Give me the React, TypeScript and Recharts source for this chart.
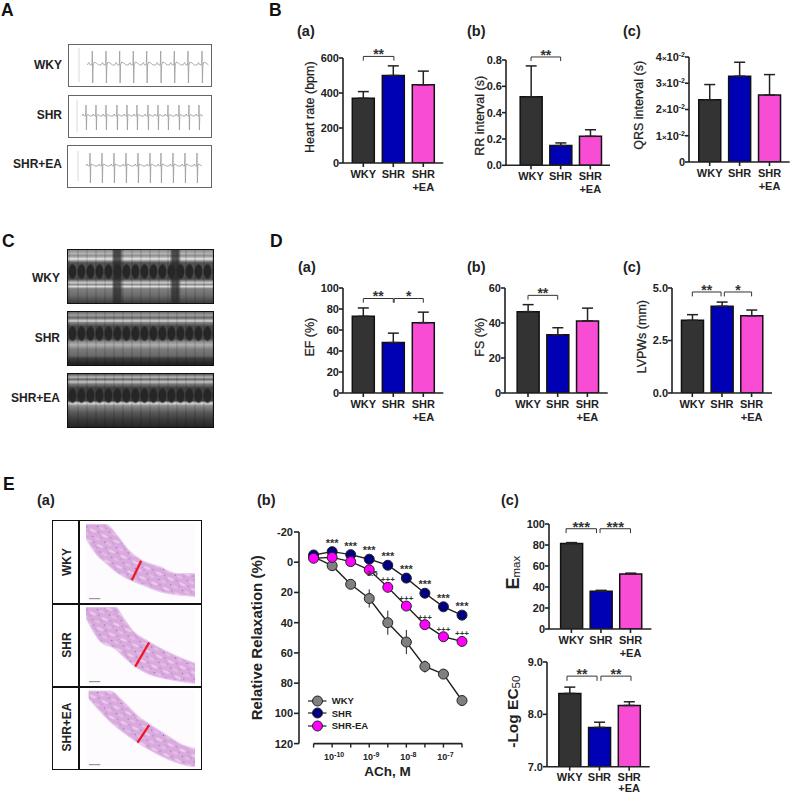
import React from "react";
import {
	Area, AreaChart, Bar, BarChart, Cell, ErrorBar, LabelList, Legend, Line, LineChart,
	ReferenceLine, XAxis, YAxis
} from "recharts";

const FONT = '"Liberation Sans", Arial, sans-serif';
const INK = "#222";

const groups = ["WKY", "SHR", "SHR\n+EA"];
const groupColors = ["#333333", "#0000b4", "#f84cd4"];

// bar panels: means and upper error
const heartRate = [370, 500, 447];
const heartRateErr = [38, 55, 78];
const rrInterval = [0.52, 0.15, 0.22];
const rrIntervalErr = [0.235, 0.02, 0.05];
const qrsInterval = [0.0237, 0.0327, 0.0255];
const qrsIntervalErr = [0.0058, 0.0053, 0.0078];
const ef = [73, 48, 67];
const efErr = [8, 9, 10];
const fs = [46.5, 33.3, 41.2];
const fsErr = [4, 4, 7.3];
const lvpw = [3.46, 4.13, 3.68];
const lvpwErr = [0.27, 0.2, 0.27];
const emax = [81.5, 36, 52.5];
const emaxErr = [0.8, 0.8, 0.7];
const logEc50 = [8.4, 7.75, 8.17];
const logEc50Err = [0.12, 0.1, 0.07];

// concentration response curves
const doseLabels = [null, "-10", null, "-9", null, "-8", null, "-7", null];
const wkyCurve = [-3.5, 2.3, 14.6, 24, 40, 52.8, 69, 74, 91.5];
const wkyCurveErr = [1, 1, 2, 6, 8, 8, 4, 1, 1];
const shrCurve = [-4.8, -7, -5, -2, 2, 10.5, 20.5, 29.5, 35];
const eaCurve = [-2.6, -3.2, -0.4, 5, 16.6, 29, 41.3, 49.3, 52.4];
const shrMarks = [null, "***", "***", "***", "***", "***", "***", "***", "***"];
const eaMarks = [null, null, null, null, "+++", "+++", "+++", "+++", "+++"];
const hiddenMark = [null, null, null, 3.5, null, null, null, null, null];
const curveNames = ["WKY", "SHR", "SHR-EA"];
const curveColors = ["#808080", "#000080", "#ff00ff"];

// ECG strips: beat times and one beat's shape [time offset, voltage]
const wkyBeats = [23.3, 37, 50.7, 64.3, 77.7, 91.7, 105.3, 119, 133];
const shrBeats = [17, 27, 37, 48, 58, 68, 79, 89, 99, 110, 120, 130];
const eaBeats = [22, 34, 46, 58, 70, 82, 93, 105, 117, 129];
const wkyBeat = [[-5, 0], [-3.5, 2.5], [-2, 0], [-0.4, 0], [0, 14], [0.4, -18], [0.9, 0], [2, 3], [4, 2], [6.5, 0]];
const shrBeat = [[-4, 0], [-2.8, 2], [-1.6, 0], [-0.4, 0], [0, 11], [0.4, -14], [0.8, 0], [1.6, 1.5], [4, 0]];
const eaBeat = [[-4, 0], [-2.8, 2], [-1.6, 0], [-0.4, 0], [0, 13], [0.4, -17], [0.8, 0], [1.6, 2], [5, 0]];

// vessel sections, read in one shared image grid
const sectionX = [
	[257, 290, 315, 350, 385, 425, 480, 530, 585],
	[257, 300, 345, 370, 400, 445, 500, 545, 585],
	[265, 310, 330, 370, 412, 445, 500, 550, 585]
];
const sectionUpper = [
	[147, 147, 147, 180, 225, 255, 275, 295, 295],
	[397, 397, 397, 430, 470, 500, 530, 550, 565],
	[648, 648, 648, 680, 722, 745, 780, 810, 820]
];
const sectionLower = [
	[190, 240, 262, 292, 312, 328, 349, 358, 363],
	[430, 500, 522, 545, 572, 597, 612, 620, 625],
	[670, 720, 740, 772, 802, 822, 850, 868, 875]
];
const sectionRange = [[147, 377], [397, 627], [645, 875]];
const sectionWall = [
	[[395, 315], [423, 257]],
	[[405, 575], [447, 503]],
	[[412, 802], [447, 750]]
];

const fixed = (digits: number) => (v: number) => v.toFixed(digits);

function GroupTick({x, y, payload, gap = 12.7, lift = 0}: any) {
	const lines = groups[payload.value].split("\n");
	return <text x={x} y={y + 9 - lift} textAnchor="middle" fontFamily={FONT} fontSize={11} fontWeight={700} fill={INK}>
		{lines.map((l, i) => <tspan key={i} x={x} dy={i === 0 ? 0 : gap}>{l}</tspan>)}
	</text>;
}

function ExpTick({x, y, payload}: any) {
	if (payload.value === 0) {
		return <text x={x} y={y + 4} textAnchor="end" fontFamily={FONT} fontSize={11} fontWeight={700} fill={INK}>0</text>;
	}
	return <text x={x} y={y + 4} textAnchor="end" fontFamily={FONT} fontSize={11} fontWeight={700} fill={INK}>
		{Math.round(payload.value * 100)}<tspan fontSize={8}>×</tspan>10<tspan fontSize={7} dy={-4}>-2</tspan>
	</text>;
}

function DoseTick({x, y, payload}: any) {
	const exp = doseLabels[payload.value];
	if (!exp) return null;
	return <text x={x + 2} y={y + 10} textAnchor="middle" fontFamily={FONT} fontSize={9} fontWeight={700} fill={INK}>
		10<tspan fontSize={7} dy={-3}>{exp}</tspan>
	</text>;
}

function SubLabel({viewBox, main, sub, mainSize, dx, dy}: any) {
	const x = viewBox.x + viewBox.width / 2 + dx;
	const y = viewBox.y + viewBox.height / 2 + dy;
	return <text x={x} y={y} transform={`rotate(-90 ${x} ${y})`} textAnchor="middle" dominantBaseline="central"
				 fontFamily={FONT} fontSize={mainSize} fontWeight={700} fill={INK}>
		{main}<tspan fontSize={11.5} fontWeight={400} dy={3}>{sub}</tspan>
	</text>;
}

function BarPanel({box, values, errors, domain, ticks, format, tick, yLabel, labelX, labelY, sub, mainSize = 15.5, brackets = [], starSize = 14, xTick}: any) {
	const {axisX, right, topY, bottomY, centers} = box;
	const unit = (centers[2] - centers[0]) / 2;
	const xDomain = [(axisX - centers[0]) / unit, 2 + (right - centers[2]) / unit];
	const data = values.map((v, i) => ({pos: i, value: v, err: [0, errors[i]]}));
	const dx = labelX - (axisX - 30);
	const dy = labelY - (topY + bottomY) / 2;
	return <div style={{position: "absolute", left: axisX - 60, top: topY - 20}}>
		<BarChart width={right - axisX + 70} height={bottomY - topY + 56} data={data}
				  margin={{top: 20, right: 10, bottom: 0, left: 0}}>
			<XAxis dataKey="pos" type="number" domain={xDomain} ticks={[0, 1, 2]} interval={0} height={36} allowDataOverflow
				   tick={xTick || <GroupTick/>} tickSize={4} stroke={INK} strokeWidth={1.6}/>
			<YAxis type="number" domain={domain} ticks={ticks} interval={0} width={60} allowDataOverflow
				   tickFormatter={format} tick={tick || {fontFamily: FONT, fontSize: 11, fontWeight: 700, fill: INK}}
				   tickSize={4} tickMargin={0} stroke={INK} strokeWidth={1.6}
				   label={sub ? <SubLabel main={yLabel} sub={sub} mainSize={mainSize} dx={dx} dy={dy}/> : {
					   value: yLabel, angle: -90, position: "center", dx, dy,
					   style: {fontFamily: FONT, fontSize: 12.5, fontWeight: 500, fill: INK, stroke: INK, strokeWidth: 0.25}
				   }}/>
			<Bar dataKey="value" barSize={22} stroke="#111" strokeWidth={1.5} isAnimationActive={false}>
				{data.map((d, i) => <Cell key={i} fill={groupColors[i]}/>)}
				<ErrorBar dataKey="err" direction="y" width={5.5} stroke={INK} strokeWidth={1.5} isAnimationActive={false}/>
			</Bar>
			{brackets.flatMap((b, i) => [
				<ReferenceLine key={`t${i}`} segment={[{x: b.from, y: b.top}, {x: b.to, y: b.top}]} ifOverflow="visible" stroke="#333" strokeWidth={1}
							   label={{value: b.stars, position: "top", offset: -3, fontFamily: FONT, fontSize: starSize, fontWeight: 700, fill: "#333"}}/>,
				<ReferenceLine key={`l${i}`} segment={[{x: b.from, y: b.top}, {x: b.from, y: b.leg}]} ifOverflow="visible" stroke="#333" strokeWidth={1}/>,
				<ReferenceLine key={`r${i}`} segment={[{x: b.to, y: b.top}, {x: b.to, y: b.leg}]} ifOverflow="visible" stroke="#333" strokeWidth={1}/>
			])}
		</BarChart>
	</div>;
}

function CurveLegend({payload}: any) {
	const rows = curveNames.filter((n) => (payload || []).some((p) => p.value === n));
	return <div>
		{rows.map((name) => <div key={name} style={{display: "flex", alignItems: "center", height: 12.65}}>
			<svg width={24} height={12} style={{display: "block"}}>
				<line x1={0} x2={18.5} y1={6} y2={6} stroke={INK} strokeWidth={1.2}/>
				<circle cx={9.5} cy={6} r={5} fill={curveColors[curveNames.indexOf(name)]} stroke={INK} strokeWidth={1}/>
			</svg>
			<span style={{fontFamily: FONT, fontSize: 9.5, fontWeight: 700, color: INK}}>{name}</span>
		</div>)}
	</div>;
}

function CurvePanel() {
	const data = wkyCurve.map((w, i) => ({
		dose: i, wky: w, wkyErr: wkyCurveErr[i], shr: shrCurve[i], ea: eaCurve[i],
		shrMark: shrMarks[i], eaMark: eaMarks[i], hidden: hiddenMark[i]
	}));
	const lineStyle = {stroke: INK, strokeWidth: 1.4, isAnimationActive: false};
	const dot = (fill) => ({r: 5, fill, stroke: INK, strokeWidth: 1});
	return <div style={{position: "absolute", left: 238.7, top: 511.7}}>
		<LineChart width={240} height={280} data={data} margin={{top: 20, right: 17, bottom: 0, left: 0}}>
			<XAxis dataKey="dose" type="number" domain={[-0.787, 8]} ticks={[0, 1, 2, 3, 4, 5, 6, 7, 8]} interval={0} height={48.4}
				   axisLine={false} tick={<DoseTick/>} tickSize={4} stroke={INK} strokeWidth={1.4}
				   label={{value: "ACh, M", position: "center", dx: 7, dy: 3, fontFamily: FONT, fontSize: 13.5, fontWeight: 700, fill: INK}}/>
			<YAxis type="number" reversed domain={[-20, 120]} ticks={[-20, 0, 20, 40, 60, 80, 100, 120]} interval={0} width={60}
				   tick={{fontFamily: FONT, fontSize: 11, fontWeight: 700, fill: INK}} tickSize={5} tickMargin={1} stroke={INK} strokeWidth={1.6}
				   label={{value: "Relative Relaxation (%)", angle: -90, position: "center", dx: -12, dy: 0, fontFamily: FONT, fontSize: 15, fontWeight: 700, fill: INK}}/>
			<ReferenceLine segment={[{x: 0, y: 120}, {x: 8, y: 120}]} ifOverflow="visible" stroke={INK} strokeWidth={1.6}/>
			<Line dataKey="wky" name="WKY" {...lineStyle} dot={dot(curveColors[0])}>
				<ErrorBar dataKey="wkyErr" direction="y" width={0} stroke={INK} strokeWidth={1} isAnimationActive={false}/>
			</Line>
			<Line dataKey="shr" name="SHR" {...lineStyle} dot={dot(curveColors[1])}>
				<LabelList dataKey="shrMark" position="top" offset={5} fontFamily={FONT} fontSize={11} fontWeight={700} fill="#333"/>
			</Line>
			<Line dataKey="hidden" legendType="none" stroke="none" dot={false} isAnimationActive={false} connectNulls={false}>
				<LabelList valueAccessor={() => "+++"} dataKey="hidden" position="top" offset={-8} dx={3} fontFamily={FONT} fontSize={8} fontWeight={700} fill="#333"/>
			</Line>
			<Line dataKey="ea" name="SHR-EA" {...lineStyle} dot={dot(curveColors[2])}>
				<LabelList dataKey="eaMark" position="top" offset={5} fontFamily={FONT} fontSize={8} fontWeight={700} fill="#333"/>
			</Line>
			<Legend layout="vertical" align="center" verticalAlign="middle" content={<CurveLegend/>}
					wrapperStyle={{left: 69, top: 182.7, width: 90}}/>
		</LineChart>
	</div>;
}

function EcgStrip({left, top, width, height, beats, beat, axisAt, axisReach}: any) {
	const data = beats.flatMap((t) => beat.map(([d, v]) => ({t: t + d, v})));
	return <div style={{position: "absolute", left, top, width, height, border: "1.5px solid #666", boxSizing: "border-box", background: "#fff"}}>
		<LineChart width={width - 3} height={height - 3} data={data} margin={{top: 0, right: 0, bottom: 0, left: 0}}>
			<XAxis dataKey="t" type="number" domain={[0, width - 3]} hide/>
			<YAxis type="number" domain={[-20, 20]} hide width={0}/>
			<ReferenceLine segment={[{x: axisAt, y: -axisReach}, {x: axisAt, y: axisReach}]} stroke="#d0d0d0" strokeWidth={0.8}/>
			<Line dataKey="v" stroke="#9a9a9a" strokeWidth={0.8} dot={false} isAnimationActive={false}/>
		</LineChart>
	</div>;
}

const echoWky = "linear-gradient(180deg, #8a8a8a 0, #b4b4b4 7%, #8c8c8c 11%, #e8e8e8 17%, #a0a0a0 20%, #555 24%, #4c4c4c 55%, #888 58%, #d0d0d0 62%, #8a8a8a 65%, #dcdcdc 69%, #808080 73%, #6e6e6e 85%, #3c3c3c 100%)";
const echoShr = "linear-gradient(180deg, #6a6a6a 0, #a0a0a0 6%, #666 11%, #d8d8d8 17%, #808080 20%, #4a4a4a 27%, #484848 50%, #8c8c8c 56%, #b0b0b0 62%, #7c7c7c 70%, #6a6a6a 82%, #3c3c3c 88%, #1e1e1e 100%)";
const echoEa = "linear-gradient(180deg, #555 0, #b8b8b8 6%, #666 10%, #c8c8c8 15%, #7a7a7a 19%, #444 26%, #404040 50%, #dcdcdc 55%, #8c8c8c 60%, #5a5a5a 72%, #3c3c3c 85%, #262626 100%)";

function EchoStrip({left, top, width, height, gradient, shadows = []}: any) {
	const columns = shadows.map((p) => `linear-gradient(90deg, transparent ${p - 4}%, rgba(40,40,40,.75) ${p - 2}%, rgba(40,40,40,.75) ${p + 2}%, transparent ${p + 4}%)`);
	const background = [
		...columns,
		"repeating-linear-gradient(90deg, rgba(0,0,0,.1) 0 2px, transparent 2px 9px)",
		"radial-gradient(ellipse 4.5px 8.5px at 50% 50%, #262626 0 70%, transparent 100%) 0 13px / 9px 17px repeat-x",
		gradient
	].join(",");
	return <div style={{position: "absolute", left, top, width, height, border: "1.5px solid #111", boxSizing: "border-box", background}}/>;
}

function VesselSection({left, top, index}: any) {
	const [low, high] = sectionRange[index];
	const data = sectionX[index].map((x, i) => ({x, band: [sectionLower[index][i], sectionUpper[index][i]]}));
	const wall = sectionWall[index];
	const id = `cells${index}`;
	return <div style={{position: "absolute", left, top, background: "#fdfbfd"}}>
		<AreaChart width={109} height={77} data={data} margin={{top: 0, right: 0, bottom: 0, left: 0}}>
			<defs>
				<pattern id={id} width={13} height={11} patternUnits="userSpaceOnUse" patternTransform="rotate(25)">
					<rect width={13} height={11} fill="#daaade"/>
					<ellipse cx={9} cy={3} rx={3.5} ry={1.2} fill="#eccbea"/>
					<ellipse cx={3.5} cy={8.5} rx={3} ry={1} fill="#e8c2e8"/>
					<circle cx={2} cy={2} r={0.6} fill="#6a5fa8"/>
					<circle cx={7} cy={6} r={0.5} fill="#7a6cb4"/>
					<circle cx={11.5} cy={8.5} r={0.6} fill="#6a5fa8"/>
					<circle cx={4.5} cy={4.5} r={0.4} fill="#8c78c0"/>
				</pattern>
			</defs>
			<XAxis dataKey="x" type="number" domain={[257, 585]} hide/>
			<YAxis type="number" reversed domain={[low, high]} hide width={0}/>
			<Area dataKey="band" type="monotone" stroke="#e6cdee" strokeWidth={1.2} fill={`url(#${id})`} fillOpacity={1} isAnimationActive={false}/>
			<ReferenceLine segment={[{x: wall[0][0], y: wall[0][1]}, {x: wall[1][0], y: wall[1][1]}]} stroke="#f0141e" strokeWidth={2.2}/>
			<ReferenceLine segment={[{x: 266, y: high - 7}, {x: 300, y: high - 7}]} stroke="#666" strokeWidth={0.8}/>
		</AreaChart>
	</div>;
}

const letters = [["A", 1, 16], ["B", 269, 16], ["C", 2, 247], ["D", 270, 247], ["E", 3, 490]];
const subLetters = [
	["(a)", 297, 36], ["(b)", 467, 36], ["(c)", 623, 36],
	["(a)", 298, 272], ["(b)", 467, 272], ["(c)", 623, 272],
	["(a)", 37, 505], ["(b)", 257, 505], ["(c)", 501, 505]
];
const rowLabels = [
	["WKY", 62, 69], ["SHR", 62, 119], ["SHR+EA", 62, 168],
	["WKY", 60, 282], ["SHR", 60, 342], ["SHR+EA", 60, 402]
];
const tableLabels = [["WKY", 562], ["SHR", 645], ["SHR+EA", 727]];

function Annotations() {
	return <svg width={791} height={794} style={{position: "absolute", left: 0, top: 0}} fontFamily={FONT} fontWeight={700} fill="#111">
		{letters.map(([t, x, y]: any) => <text key={t} x={x} y={y} fontSize={17.5}>{t}</text>)}
		{subLetters.map(([t, x, y]: any, i) => <text key={i} x={x} y={y} fontSize={14.5} fill={INK}>{t}</text>)}
		{rowLabels.map(([t, x, y]: any, i) => <text key={i} x={x} y={y} fontSize={12} textAnchor="end" fill={INK}>{t}</text>)}
		{tableLabels.map(([t, y]: any) => <text key={t} x={67} y={y} fontSize={12} textAnchor="middle" dominantBaseline="central"
												transform={`rotate(-90 67 ${y})`} fill={INK}>{t}</text>)}
	</svg>;
}

export default function App() {
	return <div style={{position: "absolute", left: 0, top: 0, width: 791, height: 794, overflow: "hidden", background: "#fff"}}>
		<EcgStrip left={68} top={44} width={144} height={43} beats={wkyBeats} beat={wkyBeat} axisAt={10} axisReach={17}/>
		<EcgStrip left={68} top={94.5} width={144} height={43} beats={shrBeats} beat={shrBeat} axisAt={8} axisReach={16}/>
		<EcgStrip left={67} top={144.5} width={145} height={43} beats={eaBeats} beat={eaBeat} axisAt={10} axisReach={15}/>

		<EchoStrip left={67} top={249} width={147} height={55} gradient={echoWky} shadows={[34, 74]}/>
		<EchoStrip left={67} top={311} width={147} height={55} gradient={echoShr}/>
		<EchoStrip left={67} top={373} width={147} height={55} gradient={echoEa}/>

		<div style={{position: "absolute", left: 51.5, top: 520, width: 150, height: 250, border: "1.5px solid #111", boxSizing: "border-box"}}/>
		<div style={{position: "absolute", left: 78, top: 520, width: 1.5, height: 250, background: "#111"}}/>
		<div style={{position: "absolute", left: 51.5, top: 603, width: 150, height: 1.5, background: "#111"}}/>
		<div style={{position: "absolute", left: 51.5, top: 686, width: 150, height: 1.5, background: "#111"}}/>
		<VesselSection left={85.7} top={524} index={0}/>
		<VesselSection left={85.7} top={607.3} index={1}/>
		<VesselSection left={85.7} top={690} index={2}/>

		<BarPanel box={{axisX: 342.7, right: 443, topY: 58.3, bottomY: 163.3, centers: [363, 393, 423]}}
				  values={heartRate} errors={heartRateErr} domain={[0, 600]} ticks={[0, 200, 400, 600]}
				  yLabel="Heart rate (bpm)" labelX={309.3} labelY={107.5}
				  brackets={[{from: 0, to: 1.02, top: 609, leg: 585, stars: "**"}]}/>
		<BarPanel box={{axisX: 506, right: 610, topY: 60, bottomY: 165.3, centers: [531, 560.7, 590.3]}}
				  values={rrInterval} errors={rrIntervalErr} domain={[0, 0.8]} ticks={[0, 0.2, 0.4, 0.6, 0.8]} format={fixed(1)}
				  yLabel="RR interval (s)" labelX={479.3} labelY={115.8}
				  brackets={[{from: 0, to: 1, top: 0.823, leg: 0.792, stars: "**"}]}/>
		<BarPanel box={{axisX: 689.3, right: 790, topY: 57, bottomY: 162, centers: [710, 739.8, 769.8]}}
				  values={qrsInterval} errors={qrsIntervalErr} domain={[0, 0.04]} ticks={[0, 0.01, 0.02, 0.03, 0.04]} tick={<ExpTick/>}
				  yLabel="QRS interval (s)" labelX={639.3} labelY={105.3}/>

		<BarPanel box={{axisX: 342.7, right: 443, topY: 288.3, bottomY: 393.3, centers: [363, 393, 423]}}
				  values={ef} errors={efErr} domain={[0, 100]} ticks={[0, 20, 40, 60, 80, 100]}
				  yLabel="EF (%)" labelX={309} labelY={337.5}
				  brackets={[{from: 0, to: 1, top: 90, leg: 86, stars: "**"}, {from: 1.03, to: 2, top: 90, leg: 86, stars: "*"}]}/>
		<BarPanel box={{axisX: 505.3, right: 608, topY: 288.3, bottomY: 393.3, centers: [528.3, 558, 587.7]}}
				  values={fs} errors={fsErr} domain={[0, 60]} ticks={[0, 20, 40, 60]}
				  yLabel="FS (%)" labelX={480} labelY={337.5}
				  brackets={[{from: 0, to: 1, top: 55.8, leg: 53.3, stars: "**"}]}/>
		<BarPanel box={{axisX: 671.7, right: 771.7, topY: 288.3, bottomY: 393.3, centers: [692, 721.7, 751.3]}}
				  values={lvpw} errors={lvpwErr} domain={[0, 5]} ticks={[0, 2.5, 5]} format={fixed(1)}
				  yLabel="LVPWs (mm)" labelX={641} labelY={337}
				  brackets={[{from: 0, to: 0.97, top: 4.81, leg: 4.6, stars: "**"}, {from: 1.08, to: 2, top: 4.81, leg: 4.6, stars: "*"}]}/>

		<CurvePanel/>

		<BarPanel box={{axisX: 549.3, right: 651.7, topY: 524.3, bottomY: 629.3, centers: [571.7, 601, 630.8]}}
				  values={emax} errors={emaxErr} domain={[0, 100]} ticks={[0, 20, 40, 60, 80, 100]} starSize={15}
				  yLabel="E" sub="max" mainSize={18} labelX={513} labelY={573}
				  brackets={[{from: -0.18, to: 0.85, top: 95.5, leg: 91.4, stars: "***"}, {from: 0.97, to: 2, top: 95.5, leg: 91.4, stars: "***"}]}/>
		<BarPanel box={{axisX: 547.3, right: 650, topY: 662, bottomY: 766.7, centers: [570, 599.3, 629.5]}}
				  values={logEc50} errors={logEc50Err} domain={[7, 9]} ticks={[7, 8, 9]} format={fixed(1)}
				  xTick={<GroupTick gap={11.5} lift={1}/>}
				  yLabel="-Log EC" sub="50" labelX={513} labelY={711.7}
				  brackets={[{from: -0.09, to: 0.92, top: 8.73, leg: 8.64, stars: "**"}, {from: 1.05, to: 2.06, top: 8.73, leg: 8.64, stars: "**"}]}/>

		<Annotations/>
	</div>;
}
